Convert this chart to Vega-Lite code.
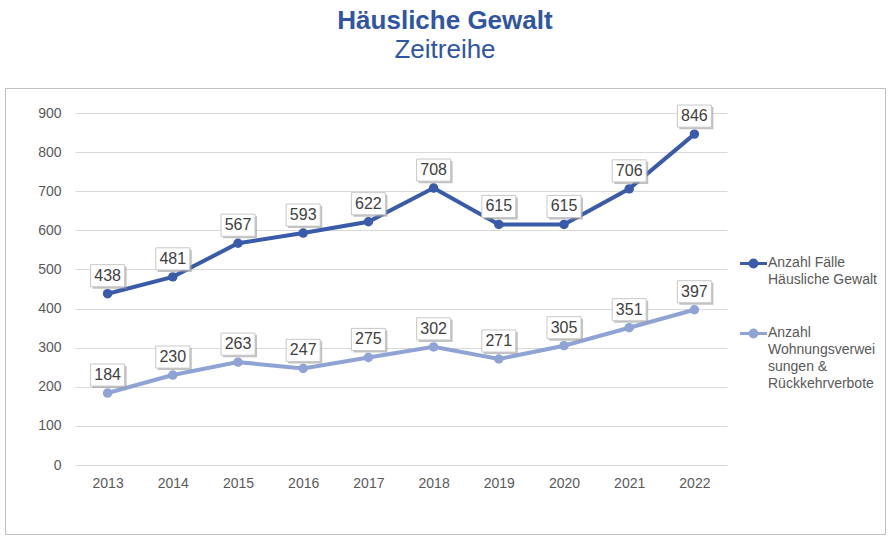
{
  "$schema": "https://vega.github.io/schema/vega-lite/v6.json",
  "width": 880,
  "height": 446,
  "autosize": {"type": "none"},
  "padding": {"left": 5, "top": 88, "right": 5, "bottom": 3},
  "background": "white",
  "title": {
    "text": "Häusliche Gewalt",
    "subtitle": "Zeitreihe",
    "anchor": "middle",
    "frame": "group",
    "font": "Liberation Sans",
    "fontSize": 26,
    "fontWeight": "bold",
    "color": "#2F55A4",
    "subtitleFont": "Liberation Sans",
    "subtitleFontSize": 26,
    "subtitleColor": "#2F55A4",
    "subtitlePadding": 3,
    "offset": 25
  },
  "config": {
    "view": {"stroke": "#bfbfbf", "strokeWidth": 1},
    "font": "Liberation Sans",
    "axis": {
      "labelFont": "Liberation Sans",
      "labelFontSize": 14,
      "labelColor": "#595959",
      "domain": false,
      "ticks": false,
      "title": null,
      "gridColor": "#d9d9d9",
      "gridWidth": 1
    }
  },
  "data": {
    "values": [
      {"year": "2013", "series": "Anzahl Fälle Häusliche Gewalt", "value": 438},
      {"year": "2014", "series": "Anzahl Fälle Häusliche Gewalt", "value": 481},
      {"year": "2015", "series": "Anzahl Fälle Häusliche Gewalt", "value": 567},
      {"year": "2016", "series": "Anzahl Fälle Häusliche Gewalt", "value": 593},
      {"year": "2017", "series": "Anzahl Fälle Häusliche Gewalt", "value": 622},
      {"year": "2018", "series": "Anzahl Fälle Häusliche Gewalt", "value": 708},
      {"year": "2019", "series": "Anzahl Fälle Häusliche Gewalt", "value": 615},
      {"year": "2020", "series": "Anzahl Fälle Häusliche Gewalt", "value": 615},
      {"year": "2021", "series": "Anzahl Fälle Häusliche Gewalt", "value": 706},
      {"year": "2022", "series": "Anzahl Fälle Häusliche Gewalt", "value": 846},
      {"year": "2013", "series": "Anzahl Wohnungsverweisungen & Rückkehrverbote", "value": 184},
      {"year": "2014", "series": "Anzahl Wohnungsverweisungen & Rückkehrverbote", "value": 230},
      {"year": "2015", "series": "Anzahl Wohnungsverweisungen & Rückkehrverbote", "value": 263},
      {"year": "2016", "series": "Anzahl Wohnungsverweisungen & Rückkehrverbote", "value": 247},
      {"year": "2017", "series": "Anzahl Wohnungsverweisungen & Rückkehrverbote", "value": 275},
      {"year": "2018", "series": "Anzahl Wohnungsverweisungen & Rückkehrverbote", "value": 302},
      {"year": "2019", "series": "Anzahl Wohnungsverweisungen & Rückkehrverbote", "value": 271},
      {"year": "2020", "series": "Anzahl Wohnungsverweisungen & Rückkehrverbote", "value": 305},
      {"year": "2021", "series": "Anzahl Wohnungsverweisungen & Rückkehrverbote", "value": 351},
      {"year": "2022", "series": "Anzahl Wohnungsverweisungen & Rückkehrverbote", "value": 397}
    ]
  },
  "encoding": {
    "x": {
      "field": "year",
      "type": "ordinal",
      "scale": {"type": "point", "range": [70, 722], "padding": 0.5},
      "axis": {"labelAngle": 0, "offset": -69, "labelPadding": 11, "grid": false}
    },
    "y": {
      "field": "value",
      "type": "quantitative",
      "scale": {"domain": [0, 900], "range": [377, 25], "nice": false},
      "axis": {"values": [0, 100, 200, 300, 400, 500, 600, 700, 800, 900], "offset": -70, "labelPadding": 14, "grid": true}
    }
  },
  "layer": [
    {
      "mark": {"type": "line", "strokeWidth": 4},
      "encoding": {
        "color": {
          "field": "series",
          "type": "nominal",
          "scale": {
            "domain": ["Anzahl Fälle Häusliche Gewalt", "Anzahl Wohnungsverweisungen & Rückkehrverbote"],
            "range": ["#3A5BA9", "#8FA3D5"]
          },
          "legend": {
            "orient": "none",
            "legendX": 738,
            "legendY": 165,
            "title": null,
            "padding": 0,
            "symbolType": "M-1.5,0H1.5M-0.38,0A0.38,0.38,0,1,1,0.38,0A0.38,0.38,0,1,1,-0.38,0Z",
            "symbolSize": 324,
            "symbolStrokeWidth": 3,
            "labelFont": "Liberation Sans",
            "labelFontSize": 14,
            "labelColor": "#595959",
            "labelOffset": 4,
            "labelBaseline": "top",
            "labelLimit": 200,
            "rowPadding": 36,
            "labelExpr": "datum.label == 'Anzahl Fälle Häusliche Gewalt' ? ['Anzahl Fälle', 'Häusliche Gewalt'] : ['Anzahl', 'Wohnungsverwei', 'sungen &', 'Rückkehrverbote']",
            "encode": {
              "symbols": {"update": {"fill": {"scale": "color", "field": "value"}, "opacity": {"value": 1}}},
              "labels": {"update": {"dy": {"value": -8}, "lineHeight": {"value": 17}}}
            }
          }
        }
      }
    },
    {
      "mark": {"type": "point", "filled": true, "opacity": 1, "size": 90},
      "encoding": {
        "color": {"field": "series", "type": "nominal", "legend": null}
      }
    },
    {
      "mark": {
        "type": "point",
        "shape": "M-1,-0.65H1V0.65H-1Z",
        "size": 1156,
        "filled": true,
        "fill": "#9a9a9a",
        "opacity": 0.6,
        "xOffset": 2,
        "yOffset": -16
      }
    },
    {
      "mark": {
        "type": "point",
        "shape": "M-1,-0.65H1V0.65H-1Z",
        "size": 1156,
        "filled": true,
        "fill": "white",
        "stroke": "#c8c8c8",
        "strokeWidth": 1,
        "opacity": 1,
        "yOffset": -18
      }
    },
    {
      "mark": {
        "type": "text",
        "fontSize": 16,
        "font": "Liberation Sans",
        "color": "#404040",
        "dy": -18,
        "baseline": "middle"
      },
      "encoding": {"text": {"field": "value", "type": "quantitative"}}
    }
  ]
}
